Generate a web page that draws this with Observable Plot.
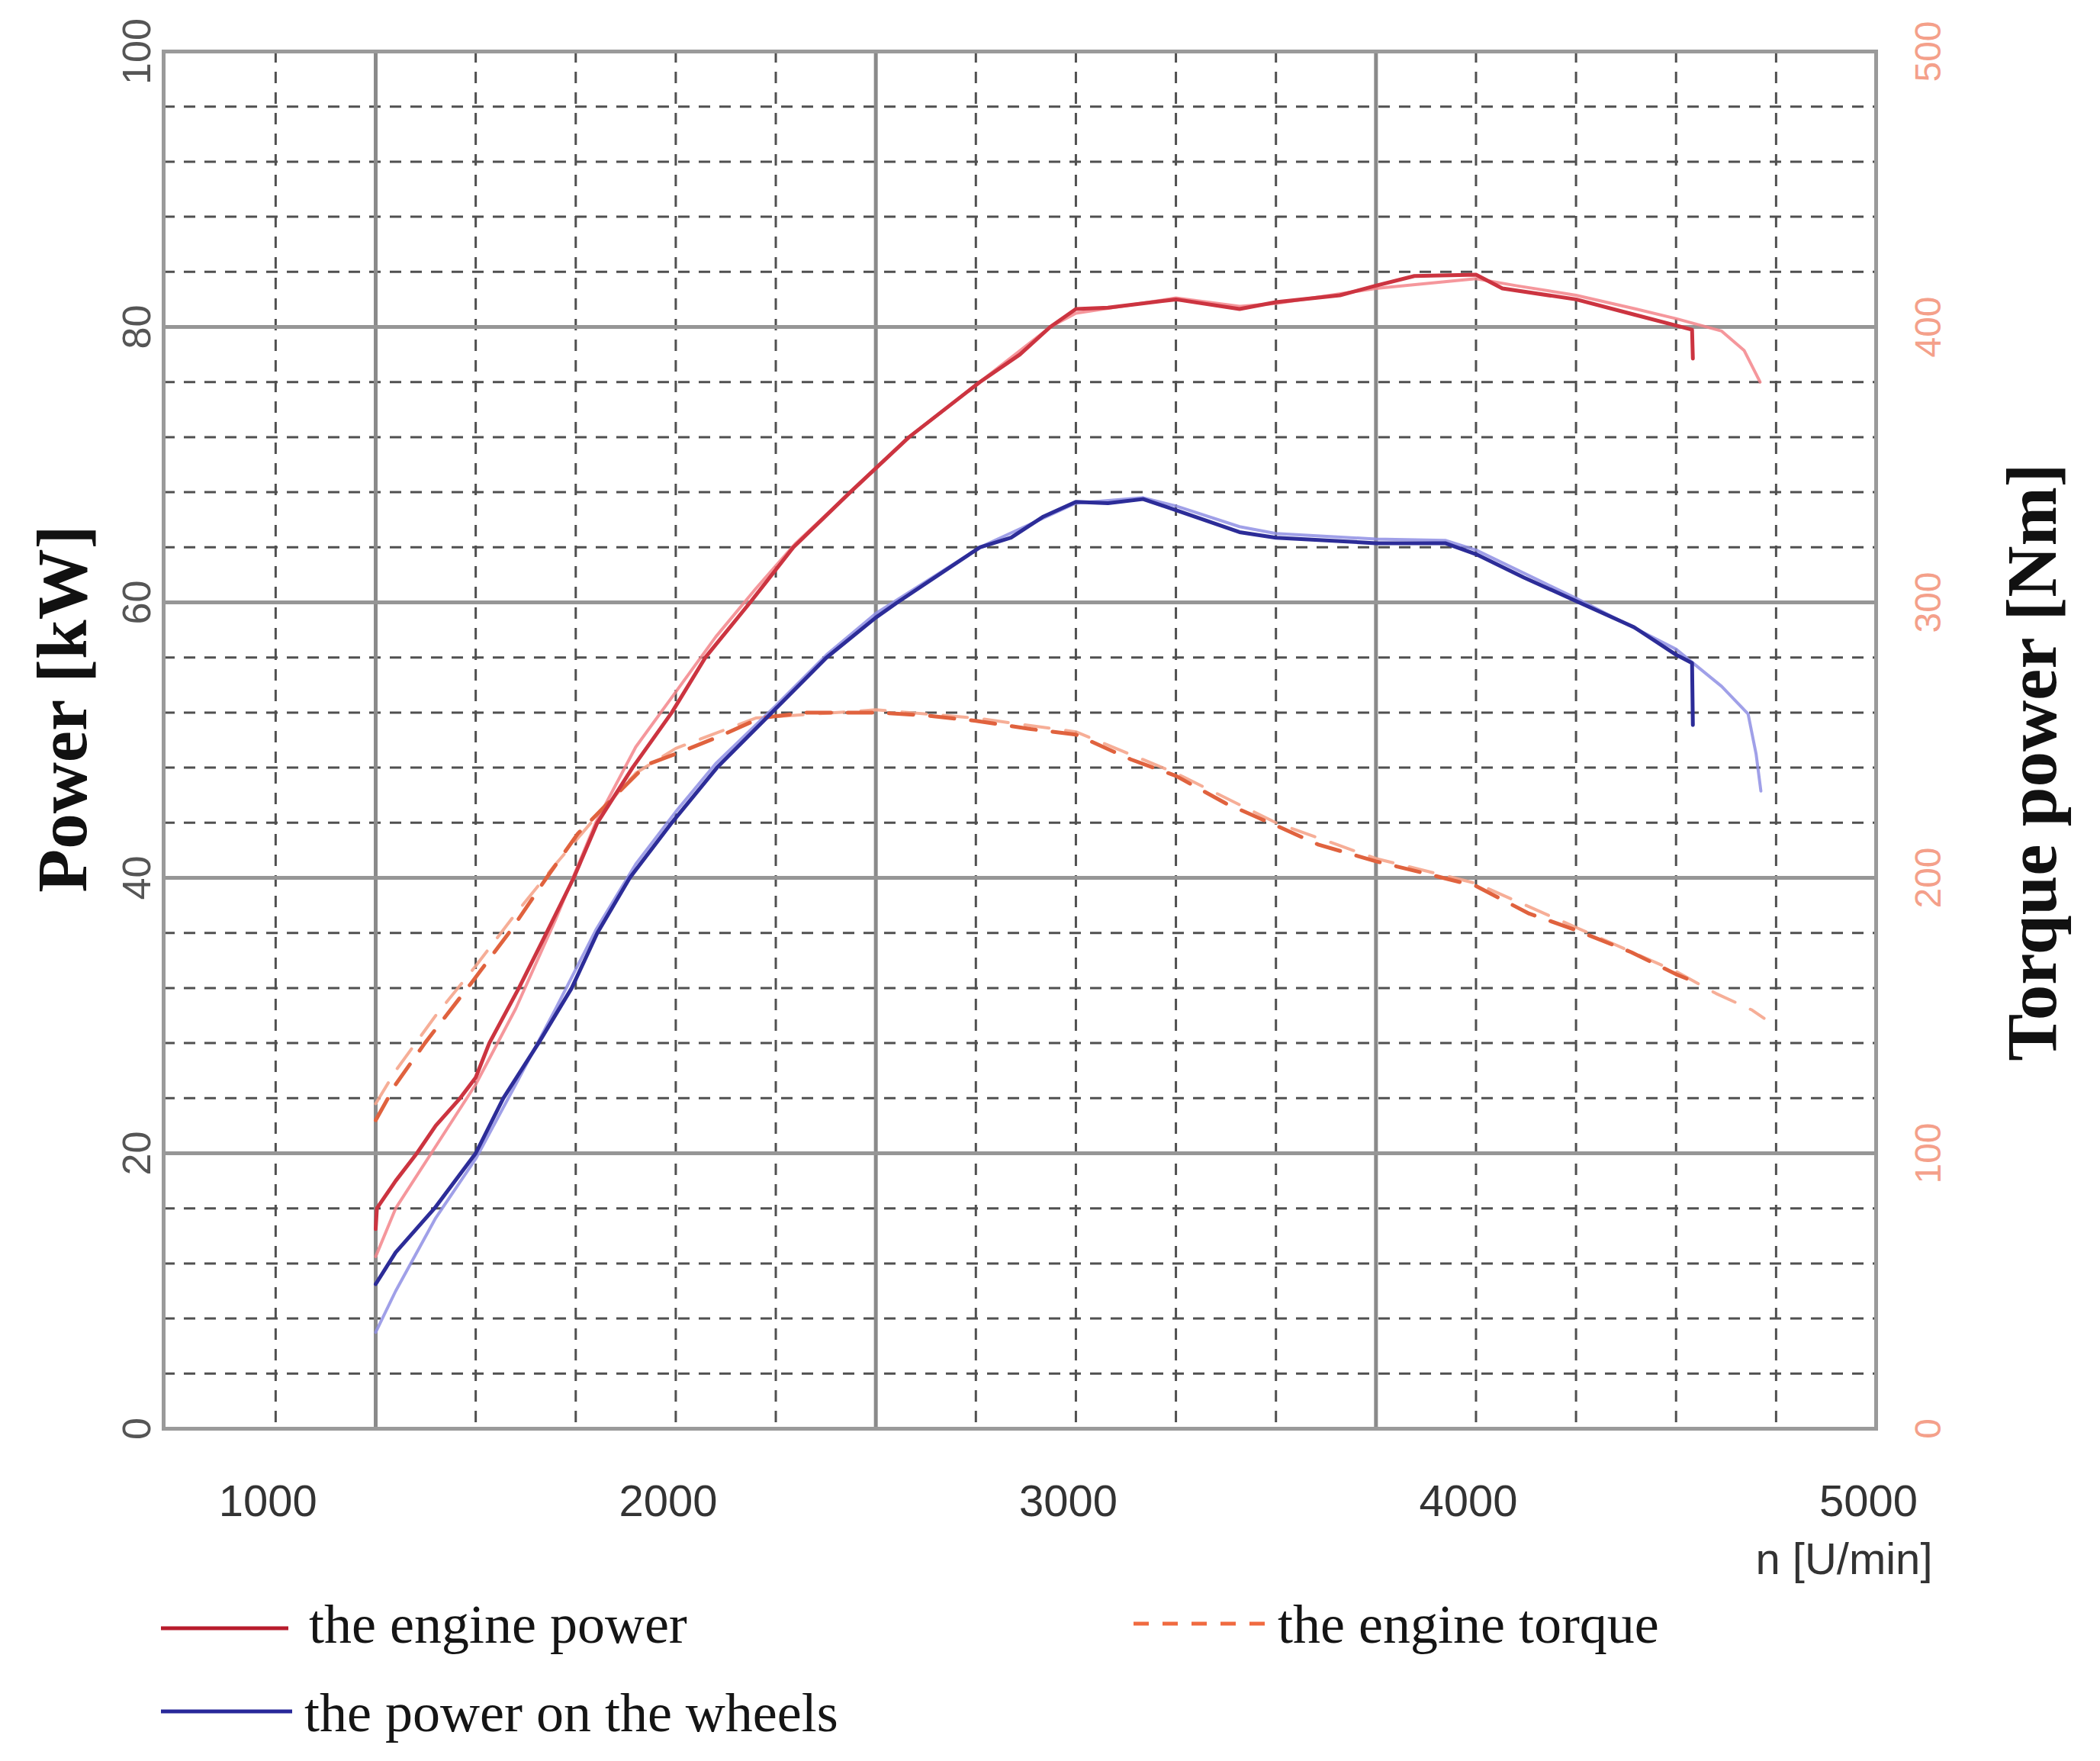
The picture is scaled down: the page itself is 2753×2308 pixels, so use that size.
<!DOCTYPE html>
<html><head><meta charset="utf-8">
<script src="https://cdn.jsdelivr.net/npm/d3@7"></script>
<script src="https://cdn.jsdelivr.net/npm/@observablehq/plot@0.6"></script>
<style>
body{margin:0;background:#fff;}
#wrap{position:relative;width:2753px;height:2308px;overflow:hidden;background:#fff;}
.leg{position:absolute;font-family:"Liberation Serif","Times New Roman",serif;font-size:72px;color:#151515;white-space:nowrap;line-height:1;}
.legline{position:absolute;}
</style></head><body><div id="wrap"></div>
<script>
// ---------- data ----------
const powerTicks = [0, 20, 40, 60, 80, 100];          // kW (left axis)
const torqueTicks = [0, 100, 200, 300, 400, 500];     // Nm (right axis)
const rpmTicks = [1000, 2000, 3000, 4000, 5000];
const rpmMinorGrid = [1000,1250,1500,1750,2000,2250,2500,2750,3000,3250,3500,3750,4000,4250,4500,4750];
const rpmMajorGrid = [1250, 2500, 3750];
const kwMinorGrid = [4,8,12,16,24,28,32,36,44,48,52,56,64,68,72,76,84,88,92,96];
const kwMajorGrid = [20, 40, 60, 80];

// the engine power, run 1 (dark) and run 2 (light)
const enginePower1Rpm = [1250,1253,1300,1353,1400,1461,1500,1534,1608,1677,1745,1804,1892,1990,2074,2186,2294,2436,2583,2760,2860,2936,3000,3080,3250,3409,3500,3660,3750,3846,4000,4066,4250,4395,4500,4540,4542];
const enginePower1Kw  = [14.5,16.0,18.0,20.0,22.0,24.0,25.5,28.0,32.0,36.0,40.0,44.0,48.0,52.0,56.0,60.0,64.0,68.0,72.0,76.0,78.0,80.0,81.3,81.4,82.0,81.3,81.8,82.3,83.0,83.7,83.8,82.8,82.0,80.9,80.1,79.8,77.7];
const enginePower2Rpm = [1250,1300,1400,1500,1600,1700,1750,1800,1900,2000,2100,2200,2300,2436,2583,2760,2936,3000,3250,3409,3500,3750,4000,4100,4250,4400,4500,4614,4670,4710];
const enginePower2Kw  = [12.5,16.0,20.5,25.0,30.5,37.0,40.5,44.0,49.5,53.5,57.5,61.0,64.3,68.0,72.0,76.0,80.0,81.0,82.1,81.5,81.7,82.8,83.5,83.0,82.3,81.3,80.6,79.7,78.3,76.0];

// the power on the wheels
const wheelPower1Rpm = [1250,1300,1397,1500,1569,1657,1740,1804,1885,1990,2103,2240,2377,2500,2554,2760,2838,2917,3000,3080,3168,3250,3409,3500,3750,3923,4000,4120,4250,4395,4500,4540,4542];
const wheelPower1Kw  = [10.5,12.8,16.0,20.0,24.0,28.0,32.0,36.0,40.0,44.0,48.0,52.0,56.0,58.9,60.0,64.0,64.7,66.2,67.3,67.2,67.5,66.7,65.1,64.7,64.3,64.3,63.5,61.8,60.1,58.2,56.2,55.6,51.1];
const wheelPower2Rpm = [1250,1300,1400,1500,1600,1700,1800,1900,2000,2100,2250,2377,2500,2760,3000,3168,3250,3409,3500,3750,3923,4000,4250,4500,4614,4680,4700,4712];
const wheelPower2Kw  = [7.0,10.0,15.3,19.6,25.0,30.5,36.2,41.0,44.8,48.3,52.5,56.2,59.2,64.0,67.2,67.6,67.0,65.5,65.0,64.6,64.5,63.8,60.3,56.6,53.9,51.9,49.0,46.3];

// the engine torque (Nm)
const torque1Rpm = [1250,1300,1373,1490,1588,1677,1755,1850,1926,2000,2103,2211,2328,2500,2623,2750,2887,3000,3137,3250,3375,3500,3607,3750,3890,4000,4133,4250,4388,4500,4550];
const torque1Nm  = [112,125,140,162,181,200,216,230,241,245,251,258,260,260,259,257,254,252,243,237,227,219,212,206,201,197,187,181,173,165,162];
const torque2Rpm = [1250,1300,1400,1500,1600,1700,1800,1900,2000,2200,2500,2750,3000,3250,3500,3750,4000,4250,4500,4600,4690,4720];
const torque2Nm  = [118,130,150,168,187,205,222,238,247,258,261,258,253,238,220,207,198,182,166,158,152,149];

const legendLabels = ["the engine power", "the power on the wheels", "the engine torque"];

// ---------- build ----------
const torquePerKw = torqueTicks[1] / powerTicks[1];
const zip = (xs, ys) => xs.map((x, i) => ({x, y: ys[i]}));
const zipT = (xs, ys) => xs.map((x, i) => ({x, y: ys[i] / torquePerKw}));

const sans = "'Liberation Sans', Arial, sans-serif";
const serif = "'Liberation Serif', 'Times New Roman', serif";

const W = 2753, H = 2080;
const frameL = 214, frameR = 2459, frameT = 67, frameB = 1872;

const plot = Plot.plot({
  width: W, height: H,
  marginLeft: frameL, marginRight: W - frameR, marginTop: frameT, marginBottom: H - frameB,
  x: {domain: [720, 5000]},
  y: {domain: [0, 100]},
  style: {background: "white", fontFamily: sans, overflow: "visible"},
  marks: [
    Plot.ruleX(rpmMinorGrid, {stroke: "#505050", strokeWidth: 3, strokeDasharray: "15,12"}),
    Plot.ruleY(kwMinorGrid, {stroke: "#505050", strokeWidth: 3, strokeDasharray: "15,12"}),
    Plot.ruleX(rpmMajorGrid, {stroke: "#8a8a8a", strokeWidth: 5}),
    Plot.ruleY(kwMajorGrid, {stroke: "#969696", strokeWidth: 5}),
    Plot.frame({stroke: "#9a9a9a", strokeWidth: 5}),
    // light runs
    Plot.line(zipT(torque2Rpm, torque2Nm), {x: "x", y: "y", stroke: "#f5a58c", strokeWidth: 4, strokeDasharray: "32,22", strokeOpacity: 0.9}),
    Plot.line(zip(enginePower2Rpm, enginePower2Kw), {x: "x", y: "y", stroke: "#f3858b", strokeWidth: 4, strokeOpacity: 0.85}),
    Plot.line(zip(wheelPower2Rpm, wheelPower2Kw), {x: "x", y: "y", stroke: "#8f8fe4", strokeWidth: 4, strokeOpacity: 0.85}),
    // dark runs
    Plot.line(zipT(torque1Rpm, torque1Nm), {x: "x", y: "y", stroke: "#e0623e", strokeWidth: 5, strokeDasharray: "32,22"}),
    Plot.line(zip(enginePower1Rpm, enginePower1Kw), {x: "x", y: "y", stroke: "#cc3440", strokeWidth: 5}),
    Plot.line(zip(wheelPower1Rpm, wheelPower1Kw), {x: "x", y: "y", stroke: "#2c2c98", strokeWidth: 5}),
    // axes
    Plot.axisX({ticks: rpmTicks, tickFormat: d => String(d), tickSize: 0, tickPadding: 73, dx: -10, fontSize: 58, fontFamily: sans, fill: "#333", label: null}),
    Plot.axisY({anchor: "left", ticks: powerTicks, tickFormat: d => String(d), tickSize: 0, tickRotate: -90, tickPadding: 18, fontSize: 52, fontFamily: sans, fill: "#555", label: null}),
    Plot.axisY({anchor: "right", ticks: powerTicks, tickFormat: d => String(Math.round(d * torquePerKw)), tickSize: 0, tickRotate: -90, tickPadding: 84, fontSize: 48, fontFamily: sans, fill: "#f4a08a", label: null}),
    Plot.text(["Power [kW]"], {text: d => d, frameAnchor: "left", textAnchor: "middle", rotate: -90, dx: -131, dy: -41, fontSize: 93, fontWeight: "bold", fontFamily: serif, fill: "#111"}),
    Plot.text(["Torque power [Nm]"], {text: d => d, frameAnchor: "right", textAnchor: "middle", rotate: -90, dx: 206, dy: 29, fontSize: 93, fontWeight: "bold", fontFamily: serif, fill: "#111"}),
    Plot.text(["n [U/min]"], {text: d => d, frameAnchor: "bottom-right", textAnchor: "end", dx: 74, dy: 190, fontSize: 58, fontFamily: sans, fill: "#333"})
  ]
});

const wrap = document.getElementById("wrap");
wrap.appendChild(plot);
plot.style.position = "absolute";
plot.style.left = "0px";
plot.style.top = "0px";

// ---------- legend (below the svg) ----------
const legendItems = [
  {label: legendLabels[0], color: "#b81c2c", dash: null, lx: 211, lw: 167, ly: 2134, tx: 405, base: 2153},
  {label: legendLabels[1], color: "#28289a", dash: null, lx: 211, lw: 172, ly: 2243, tx: 399, base: 2269},
  {label: legendLabels[2], color: "#f06a40", dash: "20,18", lx: 1486, lw: 176, ly: 2128, tx: 1675, base: 2153}
];
for (const it of legendItems) {
  const s = d3.create("svg").attr("class", "legline")
    .attr("width", it.lw).attr("height", 12)
    .style("left", it.lx + "px").style("top", (it.ly - 6) + "px");
  s.append("line").attr("x1", 0).attr("x2", it.lw).attr("y1", 6).attr("y2", 6)
    .attr("stroke", it.color).attr("stroke-width", 5)
    .attr("stroke-dasharray", it.dash);
  wrap.appendChild(s.node());
  const t = document.createElement("div");
  t.className = "leg";
  t.textContent = it.label;
  t.style.left = it.tx + "px";
  t.style.top = (it.base - 60) + "px";
  wrap.appendChild(t);
}
</script></body></html>
